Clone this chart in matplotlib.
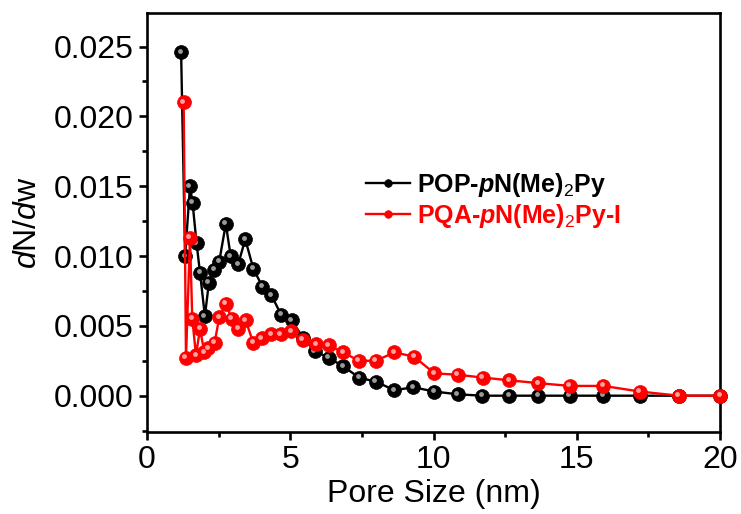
import matplotlib
matplotlib.use("Agg")
import matplotlib.pyplot as plt
from matplotlib.ticker import MultipleLocator
import matplotlib.transforms as mtransforms

plt.rcParams['font.family'] = ['Liberation Sans', 'DejaVu Sans']
plt.rcParams['mathtext.fontset'] = 'custom'
plt.rcParams['mathtext.rm'] = 'Liberation Sans'
plt.rcParams['mathtext.it'] = 'Liberation Sans:italic'
plt.rcParams['mathtext.bf'] = 'Liberation Sans:bold'
plt.rcParams['mathtext.bfit'] = 'Liberation Sans:italic:bold'

# ---- data ----
pop_x = [1.19, 1.33, 1.50, 1.59, 1.73, 1.85, 2.02, 2.16, 2.34, 2.52, 2.75, 2.92, 3.18,
         3.43, 3.71, 4.03, 4.34, 4.68, 5.05, 5.46, 5.86, 6.35, 6.85, 7.40, 7.99, 8.63,
         9.30, 10.03, 10.84, 11.70, 12.65, 13.66, 14.76, 15.93, 17.20, 18.56, 20.00]
pop_y = [0.0246, 0.0100, 0.0150, 0.0138, 0.0109, 0.0088, 0.0057, 0.0081, 0.0090, 0.0096,
         0.0123, 0.0100, 0.0094, 0.0112, 0.0091, 0.0078, 0.0072, 0.0058, 0.0054, 0.0041,
         0.0032, 0.0027, 0.0021, 0.0013, 0.0010, 0.0004, 0.0006, 0.0003, 0.0001, 0.0,
         0.0, 0.0, 0.0, 0.0, 0.0, 0.0, 0.0]

pqa_x = [1.28, 1.36, 1.50, 1.58, 1.71, 1.85, 2.00, 2.14, 2.36, 2.52, 2.75, 2.96, 3.18,
         3.44, 3.71, 4.00, 4.33, 4.66, 5.04, 5.43, 5.90, 6.35, 6.85, 7.39, 7.99, 8.63,
         9.32, 10.03, 10.84, 11.72, 12.65, 13.66, 14.76, 15.93, 17.20, 18.56, 20.00]
pqa_y = [0.0210, 0.0027, 0.0113, 0.0055, 0.0029, 0.0048, 0.0031, 0.0034, 0.0038, 0.0056,
         0.0066, 0.0055, 0.0048, 0.0054, 0.0038, 0.0041, 0.0044, 0.0044, 0.0046, 0.0040,
         0.0037, 0.0036, 0.0031, 0.0025, 0.0025, 0.0031, 0.0028, 0.0016, 0.0015, 0.0013,
         0.0011, 0.0009, 0.0007, 0.0007, 0.0003, 0.0, 0.0]

label_pop = r'POP-$\mathbfit{p}$N(Me)$_{\mathrm{2}}$Py'
label_pqa = r'PQA-$\mathbfit{p}$N(Me)$_{\mathrm{2}}$Py-I'
x_ticks = [0, 5, 10, 15, 20]
y_ticks = [0.000, 0.005, 0.010, 0.015, 0.020, 0.025]

fig = plt.figure(figsize=(7.41, 5.14), dpi=100)
ax = fig.add_axes([0.1984, 0.1595, 0.7733, 0.8152])

series = [(pop_x, pop_y, 'black', '#9a9a9a', label_pop),
          (pqa_x, pqa_y, '#ff0000', '#ffa0a0', label_pqa)]
hl = mtransforms.ScaledTranslation(-1.5 / 100, 1.5 / 100, fig.dpi_scale_trans)
for i, (xs, ys, c, hc, lab) in enumerate(series):
    ax.plot(xs, ys, '-', color=c, lw=1.7, marker='o', ms=10, mfc=c, mec=c,
            mew=0.5, label=lab, zorder=2 + 2 * i, clip_on=False)
    ax.plot(xs, ys, 'o', color=hc, ms=3.5, mew=0, zorder=3 + 2 * i,
            transform=ax.transData + hl, clip_on=False)

ax.set_xlim(0, 20)
ax.set_ylim(-0.0026, 0.0274)
ax.set_xticks(x_ticks)
ax.set_yticks(y_ticks)
ax.set_yticklabels([f'{v:.3f}' for v in y_ticks])
ax.xaxis.set_minor_locator(MultipleLocator(2.5))
ax.yaxis.set_minor_locator(MultipleLocator(0.0025))
ax.tick_params(which='both', direction='out', width=1.9, labelsize=23, top=False, right=False)
ax.tick_params(which='major', length=6)
ax.tick_params(which='minor', length=3.5)
for s in ax.spines.values():
    s.set_linewidth(1.9)

ax.set_xlabel('Pore Size (nm)', fontsize=23, labelpad=3)
ax.set_ylabel(r'$d$N/$d$w', fontsize=23, labelpad=8)

leg = ax.legend(loc='center left', bbox_to_anchor=(0.382, 0.553), frameon=False,
                prop={'weight': 'bold', 'size': 18}, labelcolor='linecolor',
                handlelength=1.75, handletextpad=0.3, labelspacing=0.12,
                borderpad=0, borderaxespad=0, markerscale=0.55)

fig.savefig('out.png', dpi=100)
